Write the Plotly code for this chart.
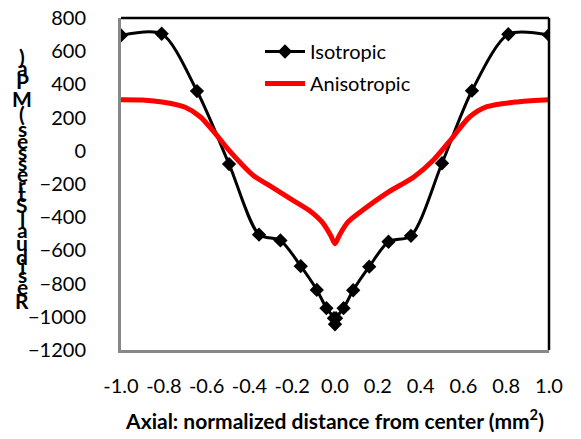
import plotly.graph_objects as go

# ---- data ----
iso_x = [-1.0, -0.81, -0.645, -0.495, -0.355, -0.255, -0.16, -0.085, -0.04, -0.005, 0.0, 0.005,
         0.04, 0.085, 0.16, 0.25, 0.355, 0.5, 0.64, 0.81, 1.0]
iso_y = [695, 705, 360, -80, -505, -540, -695, -838, -948, -1008, -1045, -1008,
         -948, -840, -698, -548, -512, -75, 362, 702, 698]

aniso_x = [-1.0, -0.9, -0.8, -0.7, -0.63, -0.56, -0.5, -0.44, -0.38, -0.3, -0.2, -0.12,
           -0.06, -0.02, 0.0, 0.02, 0.06, 0.13, 0.24, 0.37, 0.46, 0.54, 0.63, 0.71, 0.86, 1.0]
aniso_y = [308, 306, 292, 262, 205, 105, 10, -75, -150, -215, -295, -360,
           -430, -510, -560, -510, -430, -357, -256, -156, -55, 65, 205, 266, 296, 308]

x_ticks = [-1.0, -0.8, -0.6, -0.4, -0.2, 0.0, 0.2, 0.4, 0.6, 0.8, 1.0]
x_tick_text = ["-1.0", "-0.8", "-0.6", "-0.4", "-0.2", "0.0", "0.2", "0.4", "0.6", "0.8", "1.0"]
y_ticks = [800, 600, 400, 200, 0, -200, -400, -600, -800, -1000, -1200]

x_title = "Axial: normalized distance from center (mm<sup>2</sup>)"
y_title = "Residual Stresses (MPa)"

FONT = "Lato"

fig = go.Figure()
fig.add_trace(go.Scatter(
    x=iso_x, y=iso_y, name="Isotropic", mode="lines+markers",
    line=dict(color="black", width=3, shape="spline", smoothing=0.8),
    marker=dict(symbol="diamond", size=11, color="black"),
    legendgroup="a",
))
fig.add_trace(go.Scatter(
    x=aniso_x, y=aniso_y, name="Anisotropic", mode="lines",
    line=dict(color="#ff0000", width=5, shape="spline", smoothing=0.8),
    legendgroup="b",
))

# plot area geometry (px) used for the stacked y-title
L, R, T, B = 121, 32, 18, 89
W, H = 581, 439
ph = H - T - B
pw = W - L - R

# stacked (upright glyph) y-axis title, as in reference
widths = {"R": .563, "e": .503, "s": .399, "i": .246, "d": .537, "u": .537, "a": .494,
          "l": .246, " ": .226, "S": .473, "t": .347, "r": .355, "(": .303, "M": .874,
          "P": .532, ")": .303}
cum = 0.0
centers = []
for ch in y_title:
    w = widths.get(ch, 0.45)
    centers.append(cum + w / 2)
    cum += w
c0 = centers[0]
ann = []
for ch, c in zip(y_title, centers):
    if ch == " ":
        continue
    ypx = 300 - (c - c0) * 25.8
    ann.append(dict(text=ch, x=(22 - L) / pw, y=(H - B - ypx) / ph, xref="paper", yref="paper",
                    showarrow=False, xanchor="center", yanchor="middle",
                    font=dict(family=FONT, size=21, color="black", weight="bold")))

fig.update_layout(
    width=W, height=H,
    margin=dict(l=L, r=R, t=T, b=B, autoexpand=False),
    paper_bgcolor="white", plot_bgcolor="white",
    font=dict(family=FONT, size=20, color="black"),
    annotations=ann,
    showlegend=True,
    legend=dict(x=(260 - L) / pw, y=(H - B - 32) / ph, xanchor="left", yanchor="top",
                bgcolor="rgba(0,0,0,0)", font=dict(family=FONT, size=20),
                traceorder="grouped", tracegroupgap=3, itemwidth=40),
    xaxis=dict(range=[-1.0, 1.0], tickvals=x_ticks, ticktext=x_tick_text, automargin=False,
               showgrid=False, zeroline=False, showline=True, linecolor="#888888", linewidth=3,
               ticks="", ticklabelstandoff=16, tickfont=dict(size=20),
               title=dict(text=x_title, standoff=19,
                          font=dict(family=FONT, size=21, weight="bold"))),
    yaxis=dict(range=[-1200, 800], tickvals=y_ticks, automargin=False,
               showgrid=False, zeroline=False, showline=True, linecolor="#888888", linewidth=3,
               ticks="", ticklabelstandoff=28, tickfont=dict(size=20)),
    shapes=[
        dict(type="line", xref="paper", yref="paper", x0=0, x1=1, y0=1, y1=1,
             line=dict(color="black", width=2.5)),
        dict(type="line", xref="paper", yref="paper", x0=1, x1=1, y0=0, y1=1,
             line=dict(color="black", width=2.5)),
    ],
)

fig.write_html("out.html", config={"displayModeBar": False},
               post_script="document.body.style.margin='0';document.body.style.padding='0';")
